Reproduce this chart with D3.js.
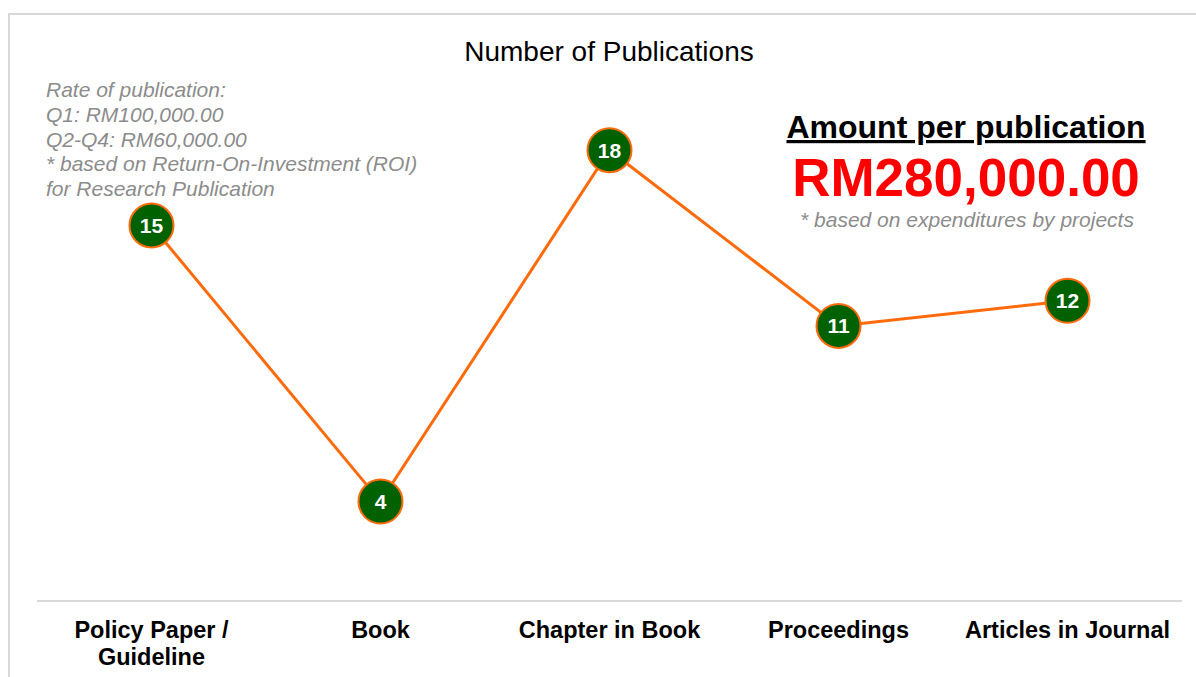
<!DOCTYPE html>
<html lang="en">
<head>
  <meta charset="UTF-8">
  <title>Number of Publications</title>
  <style>
    body{ margin: 0; background: #fff; }
    svg{ font-family: "Liberation Sans", Arial, sans-serif; }
    .note{ fill: #8c8c8c; font-style: italic; font-size: 21px; }
    .xlab{ font-weight: bold; font-size: 23.5px; fill: #000; }
  </style>
</head>
<body>
  <script src="https://cdn.jsdelivr.net/npm/d3@7"></script>
  <script>
    const categories = ['Policy Paper / Guideline', 'Book', 'Chapter in Book', 'Proceedings', 'Articles in Journal'];
    const counts = [15, 4, 18, 11, 12];
    const noteLines = ['Rate of publication:', 'Q1: RM100,000.00', 'Q2-Q4: RM60,000.00', '* based on Return-On-Investment (ROI)', 'for Research Publication'];
    const labelLines = { 'Policy Paper / Guideline': ['Policy Paper /', 'Guideline'] };

    const width = 1196, height = 677;
    const svg = d3.select('body').append('svg').attr('width', width).attr('height', height);

    // frame
    svg.append('path')
      .attr('d', `M9,${height} V14 H${width}`)
      .attr('fill', 'none').attr('stroke', '#d9d9d9').attr('stroke-width', 2);

    const x = d3.scaleBand().domain(categories).range([37, 1182]);
    const y = d3.scaleLinear().domain([0, 20]).range([602, 100]);

    // axis line
    svg.append('line')
      .attr('x1', 37).attr('x2', 1182).attr('y1', 601).attr('y2', 601)
      .attr('stroke', '#d9d9d9').attr('stroke-width', 2);

    // x labels
    categories.forEach(c => {
      const lines = labelLines[c] || [c];
      const t = svg.append('text').attr('class', 'xlab').attr('text-anchor', 'middle')
        .attr('x', x(c) + x.bandwidth() / 2).attr('y', 638);
      lines.forEach((l, i) => t.append('tspan').attr('x', x(c) + x.bandwidth() / 2).attr('dy', i ? 27 : 0).text(l));
    });

    svg.append('text').attr('x', 609).attr('y', 61).attr('text-anchor', 'middle')
      .attr('font-size', 28).attr('fill', '#000').text('Number of Publications');

    // left note
    const note = svg.append('text').attr('class', 'note').attr('x', 46).attr('y', 97);
    noteLines.forEach((l, i) => note.append('tspan').attr('x', 46).attr('dy', i ? 24.8 : 0).text(l));

    // right annotation
    svg.append('text').attr('x', 966).attr('y', 138).attr('text-anchor', 'middle')
      .attr('font-size', 32).attr('font-weight', 'bold').attr('fill', '#000')
      .attr('text-decoration', 'underline').text('Amount per publication');
    svg.append('text').attr('x', 966).attr('y', 196).attr('text-anchor', 'middle')
      .attr('font-size', 53).attr('font-weight', 'bold').attr('fill', '#ff0000').text('RM280,000.00');
    svg.append('text').attr('class', 'note').attr('x', 967).attr('y', 227).attr('text-anchor', 'middle')
      .text('* based on expenditures by projects');

    const data = categories.map((c, i) => ({ c, v: counts[i] }));
    const line = d3.line().x(d => x(d.c) + x.bandwidth() / 2).y(d => y(d.v));
    svg.append('path').datum(data).attr('d', line)
      .attr('fill', 'none').attr('stroke', '#ff6a0a').attr('stroke-width', 3);

    const pt = svg.selectAll('g.pt').data(data).enter().append('g')
      .attr('transform', d => `translate(${x(d.c) + x.bandwidth() / 2},${y(d.v)})`);
    pt.append('circle').attr('r', 22).attr('fill', '#006100')
      .attr('stroke', '#ff6a0a').attr('stroke-width', 2);
    pt.append('text').attr('text-anchor', 'middle').attr('dy', 7.5)
      .attr('fill', '#fff').attr('font-weight', 'bold').attr('font-size', 21)
      .text(d => d.v);
  </script>
</body>
</html>
